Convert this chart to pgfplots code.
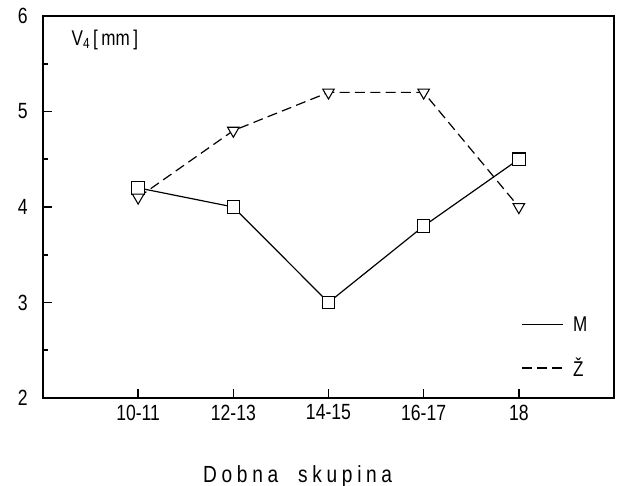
\documentclass[border=0pt]{standalone}
\usepackage{fontspec}
\setmainfont{Liberation Sans}[FakeStretch=0.8]
\newfontfamily\spaced{Liberation Sans}[FakeStretch=0.82, LetterSpace=20]
\usepackage{pgfplots}
\pgfplotsset{compat=1.18}
\begin{document}
\begin{tikzpicture}
\useasboundingbox (-32.25pt,-65.25pt) rectangle (435pt,298.5pt);
\begin{axis}[
  at={(0,0)}, anchor=south west,
  scale only axis, width=428.25pt, height=286.5pt,
  xmin=-1, xmax=5, ymin=2, ymax=6,
  xtick={0,1,2,3,4},
  xticklabels={10-11,12-13,14-15,16-17,18},
  ytick={2,3,4,5,6},
  minor y tick num=1,
  tick pos=left, tick align=inside,
  major tick length=7pt, minor tick length=3.75pt,
  every tick/.style={line width=1.2pt, black},
  axis line style={line width=1.3pt},
  /pgf/number format/assume math mode=true,
  tick label style={font=\fontsize{16.5}{18}\selectfont},
  xticklabel style={yshift=-1.5pt},
  yticklabel style={xshift=-8pt},
  legend style={draw=none, fill=none, at={(rel axis cs:0.837,0.1325)}, anchor=west,
    inner xsep=0pt, inner ysep=0pt, row sep=14.5pt, column sep=5pt,
    font=\fontsize{16}{18}\selectfont},
  legend cell align=left,
  legend image code/.code={\draw[#1, mark=none] (0pt,0pt) -- (31pt,0pt);},
  clip=false,
]
\addplot[black, line width=0.9pt, mark=square*, mark size=4.7pt,
  mark options={solid, fill=white, line width=0.8pt}]
  coordinates {(0,4.2) (1,4.0) (2,3.0) (3,3.8) (4,4.5)};
\addlegendentry{M}
\addplot[black, line width=0.9pt, dash pattern=on 7.5pt off 4pt,
  mark=triangle*, mark size=5pt,
  mark options={solid, fill=white, line width=0.8pt, rotate=180}]
  coordinates {(0,4.1) (1,4.8) (2,5.2) (3,5.2) (4,4.0)};
\addlegendentry{Ž}
\node[anchor=west, font=\fontsize{16}{18}\selectfont] at (rel axis cs:0,1) [xshift=18pt, yshift=-18pt] {V\raisebox{-0.25ex}{\fontsize{11}{12}\selectfont 4}\,[\,mm\,]};
\node[anchor=base, font=\spaced\fontsize{17.5}{20}\selectfont] at (rel axis cs:0.446,0) [yshift=-63pt] {Dobna\ \ skupina};
\end{axis}
\end{tikzpicture}
\end{document}
